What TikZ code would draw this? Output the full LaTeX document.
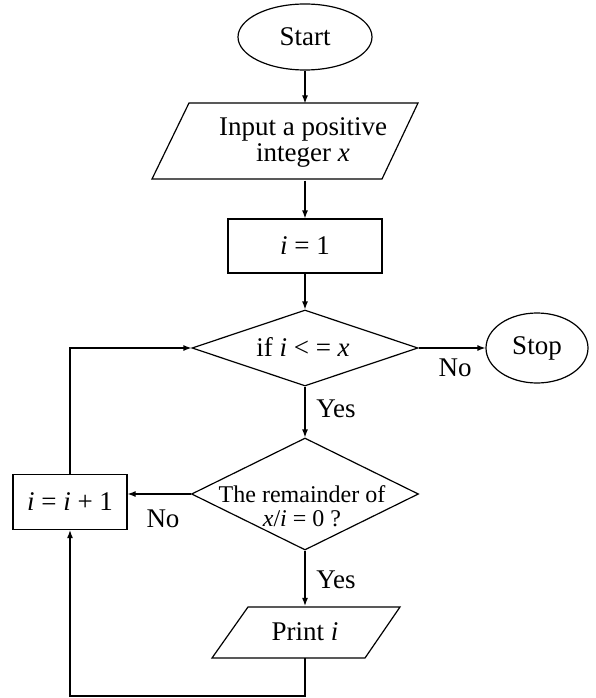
\documentclass[tikz,border=0pt]{standalone}
\usepackage{fontspec}
\setmainfont{Liberation Serif}
\usetikzlibrary{shapes.geometric,arrows.meta}
\begin{document}
\begin{tikzpicture}[x=1pt,y=-1pt,line width=1.2pt,
  every node/.style={font=\fontsize{27}{26}\selectfont},
  flow/.style={-{Latex[length=8pt,width=6pt]}},
  term/.style={ellipse,draw,inner sep=0pt},
  procbox/.style={draw,rectangle,inner sep=0pt},
  decide/.style={diamond,draw,inner sep=0pt},
  iotext/.style={inner sep=0pt,align=center}]
\useasboundingbox (0,0) rectangle (596,698);
% nodes
\node[term,minimum width=134pt,minimum height=66pt] (start) at (305,37) {Start};
\node[iotext,minimum height=76pt] (input) at (303,142) {Input a positive\\integer \textit{x}};
\draw (189,103) -- (418,103) -- (382,179) -- (152,179) -- cycle;
\node[procbox,minimum width=154pt,minimum height=54pt] (init) at (305,246) {\textit{i} = 1};
\node[decide,minimum width=226pt,minimum height=76pt] (d1) at (305,348) {};
\node (d1t) at (303,347) {if \textit{i} < = \textit{x}};
\node[term,minimum width=102pt,minimum height=70pt] (stop) at (537,348) {Stop};
\node[decide,minimum width=227pt,minimum height=112pt] (d2) at (305,494) {};
\node[iotext,font=\fontsize{24}{24}\selectfont] (d2t) at (302,506) {The remainder of\\\textit{x}/\textit{i} = 0 ?};
\node[procbox,minimum width=114pt,minimum height=55pt] (inc) at (70,502) {\textit{i} = \textit{i} + 1};
\node[iotext,minimum height=51pt] (print) at (305,632) {Print \textit{i}};
\draw (248,607) -- (400,607) -- (365,658) -- (212,658) -- cycle;
% labels
\node (no1) at (455,368) {No};
\node (yes1) at (336,409) {Yes};
\node (no2) at (163,519) {No};
\node (yes2) at (336,580) {Yes};
% connectors
\coordinate (low) at (305,696);
\draw[flow] (start.south) -- (start.south |- input.north);
\draw[flow] (init.north |- input.south) -- (init.north);
\draw[flow] (init.south) -- (d1.north);
\draw[flow] (d1.east) -- (stop.west);
\draw[flow] (d1.south) -- (d2.north);
\draw[flow] (d2.west) -- (d2.west -| inc.east);
\draw[flow] (d2.south) -- (d2.south |- print.north);
\draw[flow] (print.south) -- (low) -| (inc.south);
\draw[flow] (inc.north) |- (d1.west);
\end{tikzpicture}
\end{document}
